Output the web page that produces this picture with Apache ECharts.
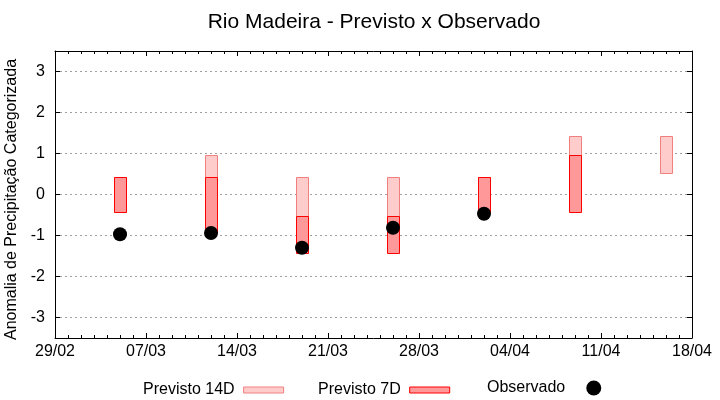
<!DOCTYPE html>
<html>
<head>
<meta charset="utf-8">
<script src="https://cdn.jsdelivr.net/npm/echarts@6/dist/echarts.min.js"></script>
<style>html,body{margin:0;padding:0;background:#fff}#c{width:720px;height:400px}</style>
</head>
<body>
<div id="c"></div>
<script>
// ---- data ----
const startDate = '29/02';
const year = 2016;
const dates = ['05/03', '12/03', '19/03', '26/03', '02/04', '09/04', '16/04'];
const prev14Low  = [-0.43, 0.43, -0.52, -0.52, -0.43, 0.96, 0.52];
const prev14High = [ 0.43, 0.96,  0.43,  0.43,  0.43, 1.43, 1.43];
const prev7Low   = [-0.43, -0.93, -1.43, -1.43, -0.43, -0.43, null];
const prev7High  = [ 0.43,  0.43, -0.52, -0.52,  0.43,  0.96, null];
const observed   = [-0.97, -0.94, -1.30, -0.81, -0.47, null, null];

function parseDM(s) { const [d, m] = s.split('/').map(Number); return Date.UTC(year, m - 1, d); }
const t0 = parseDM(startDate);
function dayIndex(s) { return Math.round((parseDM(s) - t0) / 86400000); }
function fmtDay(v) {
  const dt = new Date(t0 + v * 86400000);
  const d = String(dt.getUTCDate()).padStart(2, '0');
  const m = String(dt.getUTCMonth() + 1).padStart(2, '0');
  return d + '/' + m;
}
function rangeData(lows, highs) {
  const out = [];
  dates.forEach((s, i) => { if (lows[i] != null && highs[i] != null) out.push([dayIndex(s), lows[i], highs[i]]); });
  return out;
}
function renderRange(fill, stroke) {
  return function (params, api) {
    const x = api.value(0), lo = api.value(1), hi = api.value(2);
    const pTop = api.coord([x, hi]);
    const pBot = api.coord([x, lo]);
    const w = api.size([1, 0])[0] - 1;
    return {
      type: 'rect',
      shape: { x: Math.round(pTop[0] - w / 2) + 0.5, y: Math.round(pTop[1]) + 0.5, width: Math.round(w), height: Math.round(pBot[1] - pTop[1]) },
      style: { fill: fill, stroke: stroke, lineWidth: 1 }
    };
  };
}
const FONT = 'Liberation Sans';
const c14 = { fill: '#ffcccc', stroke: '#f08080' };
const c7 = { fill: '#ff9999', stroke: '#ff0000' };

const xMax = dayIndex('18/04');
const axisLineStyle = { show: true, onZero: false, lineStyle: { color: '#000', width: 1 } };

const chart = echarts.init(document.getElementById('c'), null, { renderer: 'canvas' });
chart.setOption({
  animation: false,
  backgroundColor: '#fff',
  textStyle: { fontFamily: FONT },
  title: {
    text: 'Rio Madeira - Previsto x Observado',
    left: 369, top: 7, textAlign: 'center',
    textStyle: { fontFamily: FONT, fontSize: 21, fontWeight: 'normal', color: '#000' }
  },
  grid: { left: 55, right: 28, top: 51, bottom: 62, containLabel: false, outerBoundsMode: 'none' },
  legend: [
    { left: 143, top: 382, padding: 0, align: 'right', itemWidth: 40, itemHeight: 6,
      textStyle: { fontFamily: FONT, fontSize: 16, color: '#000', padding: [0, 4, 0, 0] },
      data: [{ name: 'Previsto 14D', icon: 'rect', itemStyle: { color: c14.fill, borderColor: c14.stroke, borderWidth: 1 } }] },
    { left: 318, top: 382, padding: 0, align: 'right', itemWidth: 40, itemHeight: 6,
      textStyle: { fontFamily: FONT, fontSize: 16, color: '#000', padding: [0, 4, 0, 0] },
      data: [{ name: 'Previsto 7D', icon: 'rect', itemStyle: { color: c7.fill, borderColor: c7.stroke, borderWidth: 1 } }] },
    { left: 487, top: 380, padding: 0, align: 'right', itemWidth: 15, itemHeight: 15,
      textStyle: { fontFamily: FONT, fontSize: 16, color: '#000', padding: [0, 16, 0, 0] },
      data: [{ name: 'Observado', icon: 'circle', itemStyle: { color: '#000', opacity: 1 } }] }
  ],
  xAxis: [
    { type: 'value', position: 'bottom', min: 0, max: xMax, interval: 7,
      axisLine: axisLineStyle,
      axisTick: { show: true, inside: true, length: 5, lineStyle: { color: '#000' } },
      minorTick: { show: true, splitNumber: 7, length: 3, lineStyle: { color: '#000' } },
      axisLabel: { formatter: fmtDay, fontFamily: FONT, fontSize: 16, color: '#000', margin: 6 },
      splitLine: { show: false } },
    { type: 'value', position: 'top', min: 0, max: xMax, interval: 7,
      axisLine: axisLineStyle,
      axisTick: { show: true, inside: true, length: 5, lineStyle: { color: '#000' } },
      minorTick: { show: true, splitNumber: 7, length: 3, lineStyle: { color: '#000' } },
      axisLabel: { show: false }, splitLine: { show: false } }
  ],
  yAxis: [
    { type: 'value', position: 'left', min: -3.5, max: 3.5, splitNumber: 7,
      name: 'Anomalia de Precipitação Categorizada', nameLocation: 'middle', nameGap: 28,
      nameTextStyle: { fontFamily: FONT, fontSize: 16, color: '#000', padding: [0, 10, 0, 0] },
      axisLine: axisLineStyle,
      axisTick: { show: true, inside: true, length: 5, lineStyle: { color: '#000' } },
      axisLabel: { fontFamily: FONT, fontSize: 16, color: '#000', margin: 10, showMinLabel: false, showMaxLabel: false },
      splitLine: { show: true, lineStyle: { color: '#a0a0a0', type: [2, 3], width: 1 } } },
    { type: 'value', position: 'right', min: -3.5, max: 3.5, splitNumber: 7,
      axisLine: axisLineStyle,
      axisTick: { show: true, inside: true, length: 5, lineStyle: { color: '#000' } },
      axisLabel: { show: false }, splitLine: { show: false } }
  ],
  series: [
    { name: 'Previsto 14D', type: 'custom', xAxisIndex: 0, yAxisIndex: 0, z: 2,
      renderItem: renderRange(c14.fill, c14.stroke), encode: { x: 0, y: [1, 2] },
      itemStyle: { color: c14.fill, borderColor: c14.stroke },
      data: rangeData(prev14Low, prev14High) },
    { name: 'Previsto 7D', type: 'custom', xAxisIndex: 0, yAxisIndex: 0, z: 3,
      renderItem: renderRange(c7.fill, c7.stroke), encode: { x: 0, y: [1, 2] },
      itemStyle: { color: c7.fill, borderColor: c7.stroke },
      data: rangeData(prev7Low, prev7High) },
    { name: 'Observado', type: 'scatter', xAxisIndex: 0, yAxisIndex: 0, z: 4,
      symbol: 'circle', symbolSize: 14, itemStyle: { color: '#000', opacity: 1 },
      data: dates.map((s, i) => observed[i] == null ? null : [dayIndex(s), observed[i]]).filter(d => d) }
  ]
});
</script>
</body>
</html>
